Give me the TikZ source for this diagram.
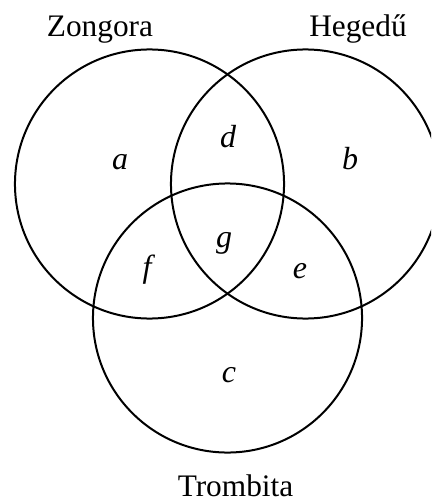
\documentclass[tikz,border=0pt]{standalone}
\usepackage{fontspec}
\setmainfont{Liberation Serif}
\usetikzlibrary{positioning}

\begin{document}
\begin{tikzpicture}[x=0.75pt, y=-0.75pt,
    set/.style={line width=1.5pt},
    setname/.style={anchor=base, font=\fontsize{23.5}{28}\selectfont},
    region/.style={anchor=base, font=\fontsize{24}{28}\selectfont\itshape}]
  % ===== Frame =====
  \useasboundingbox (0,0) rectangle (431,502);
  \clip (0,0) rectangle (431,502);

  % Circle centres
  \coordinate (zc) at (149.5,184);
  \coordinate (hc) at (305.5,184);
  \coordinate (tc) at (227.5,318);

  % Circles
  \draw[set] (zc) circle [radius=100.9pt];
  \draw[set] (hc) circle [radius=100.9pt];
  \draw[set] (tc) circle [radius=100.9pt];

  % Set names
  \node[setname] (zongora) at (100,37) {Zongora};
  \node[setname] (hegedu) at (358,37) {Hegedű};
  \node[setname] (trombita) at (235.5,496) {Trombita};

  % Regions
  \node[region] (ra) at (120,170) {a};
  \node[region] (rb) at (350,170) {b};
  \node[region] (rd) at (228,148) {d};
  \node[region] (rg) at (224,247) {g};
  \node[region] (rf) at (147,277) {f};
  \node[region] (re) at (300,278) {e};
  \node[region] (rc) at (229,382) {c};
\end{tikzpicture}
\end{document}
